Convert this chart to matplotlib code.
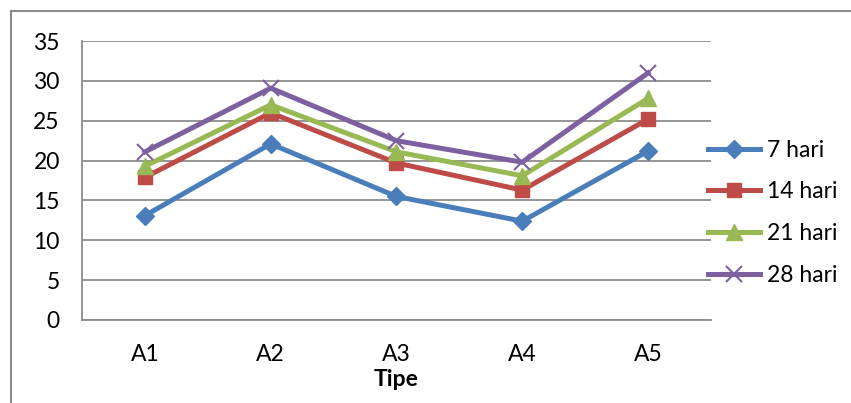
import matplotlib.pyplot as plt
from matplotlib.lines import Line2D

plt.rcParams['font.family'] = ['Lato', 'DejaVu Sans']

# Data
tipe = ['A1', 'A2', 'A3', 'A4', 'A5']
hari_7 = [13.1, 22.1, 15.5, 12.4, 21.2]
hari_14 = [17.9, 26.0, 19.7, 16.3, 25.2]
hari_21 = [19.3, 27.0, 21.1, 18.1, 27.8]
hari_28 = [21.1, 29.1, 22.5, 19.8, 31.0]

fig = plt.figure(figsize=(8.51, 4.03), dpi=100)
ax = fig.add_axes([0.0964, 0.206, 0.739, 0.692])

x = range(len(tipe))
ax.plot(x, hari_7, color='#4A7EBB', lw=3.6, marker='D', ms=9, label='7 hari')
ax.plot(x, hari_14, color='#BE4B48', lw=3.6, marker='s', ms=10, label='14 hari')
ax.plot(x, hari_21, color='#98B954', lw=3.6, marker='^', ms=11, label='21 hari')
ax.plot(x, hari_28, color='#7D60A0', lw=3.6, marker='x', ms=11, mew=1.5, label='28 hari')

ax.set_xlim(-0.5, 4.5)
ax.set_ylim(0, 35)
ax.set_yticks(range(0, 36, 5))
ax.set_xticks(list(x))
ax.set_xticklabels(tipe)
ax.yaxis.grid(True, color='#8C8C8C', lw=1.3)
ax.set_axisbelow(True)
ax.tick_params(length=0, labelsize=16.5, colors='black')
ax.tick_params(axis='y', pad=16)
ax.tick_params(axis='x', pad=17)
for s in ['top', 'right']:
    ax.spines[s].set_visible(False)
for s in ['left', 'bottom']:
    ax.spines[s].set_color('#8C8C8C')
    ax.spines[s].set_linewidth(1.3)

ax.set_xlabel('Tipe', fontsize=16.5, fontweight='bold', labelpad=3)

ax.legend(loc='center left', bbox_to_anchor=(0.962, 0.385), frameon=False,
          fontsize=16.5, handlelength=2.3, labelspacing=0.9, handletextpad=0.3)

# outer chart frame (left and top edges visible)
fig.add_artist(Line2D([11/851, 11/851], [0, 1 - 11/403], color='#8C8C8C', lw=1.5))
fig.add_artist(Line2D([11/851, 1], [1 - 11/403, 1 - 11/403], color='#8C8C8C', lw=1.5))

fig.savefig('out.png', dpi=100)
